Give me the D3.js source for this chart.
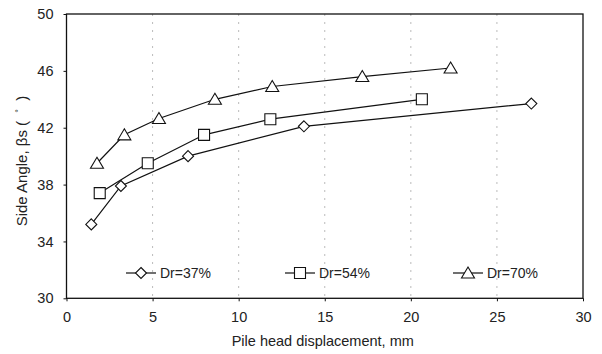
<!DOCTYPE html>
<html><head><meta charset="utf-8">
<script src="https://cdn.jsdelivr.net/npm/d3@7"></script>
<style>body{margin:0;background:#fff}svg{display:block}text{font-family:"Liberation Sans",Arial,sans-serif;fill:#222}</style>
</head><body><svg id="c" width="602" height="354"></svg>
<script>
const xTicks=[0,5,10,15,20,25,30];
const yTicks=[30,34,38,42,46,50];
const seriesNames=["Dr=37%","Dr=54%","Dr=70%"];
const dr37x=[1.44,3.16,7.06,13.79,27.0];
const dr37y=[35.2,37.9,40.0,42.1,43.7];
const dr54x=[1.93,4.72,7.99,11.84,20.64];
const dr54y=[37.4,39.5,41.5,42.6,44.0];
const dr70x=[1.77,3.36,5.37,8.62,11.95,17.18,22.31];
const dr70y=[39.5,41.5,42.65,44.0,44.9,45.6,46.2];

// marker shapes (path generators, centred on 0,0)
const markerPaths=[
 "M0,-5.5L5.5,0L0,5.5L-5.5,0Z",
 "M-5.5,-5.5H5.5V5.5H-5.5Z",
 "M0,-6L6.5,5H-6.5Z"
];

const svg=d3.select("#c");
const L=66.5,R=583,T=14,B=298.3;
const x=d3.scaleLinear().domain([0,30]).range([L,R]);
const y=d3.scaleLinear().domain([30,50]).range([B,T]);

svg.append("g").selectAll("line").data(xTicks.slice(1,-1)).join("line")
 .attr("x1",d=>x(d)).attr("x2",d=>x(d)).attr("y1",T).attr("y2",B)
 .attr("stroke","#aaa").attr("stroke-width",0.8).attr("stroke-dasharray","2,6");

svg.append("rect").attr("x",L).attr("y",T).attr("width",R-L).attr("height",B-T)
 .attr("fill","none").attr("stroke","#111").attr("stroke-width",1.3);

const xa=svg.append("g").attr("transform",`translate(0,${B})`)
 .call(d3.axisBottom(x).tickValues(xTicks).tickSize(3).tickPadding(10).tickFormat(d3.format("d")));
const ya=svg.append("g").attr("transform",`translate(${L},0)`)
 .call(d3.axisLeft(y).tickValues(yTicks).tickSize(3).tickPadding(10).tickFormat(d3.format("d")));
[xa,ya].forEach(a=>{a.select(".domain").remove();a.selectAll("line").attr("stroke","#111");
 a.selectAll("text").attr("font-size",14.5).attr("font-family","Liberation Sans, Arial, sans-serif").attr("fill","#222");});

const data=[[dr37x,dr37y],[dr54x,dr54y],[dr70x,dr70y]].map(([xs,ys])=>xs.map((v,i)=>[v,ys[i]]));
const line=d3.line().x(d=>x(d[0])).y(d=>y(d[1]));
data.forEach((s,k)=>{
 svg.append("path").datum(s).attr("d",line).attr("fill","none").attr("stroke","#111").attr("stroke-width",1.2);
 svg.append("g").selectAll("path").data(s).join("path")
  .attr("transform",d=>`translate(${x(d[0])},${y(d[1])})`)
  .attr("d",markerPaths[k])
  .attr("fill","#fff").attr("stroke","#111").attr("stroke-width",1.1);
});

const legX=[126,285,453];
const ly=273;
seriesNames.forEach((n,k)=>{
 const g=svg.append("g");
 g.append("line").attr("x1",legX[k]).attr("x2",legX[k]+30).attr("y1",ly).attr("y2",ly).attr("stroke","#111").attr("stroke-width",1.2);
 g.append("path").attr("transform",`translate(${legX[k]+15},${ly})`)
  .attr("d",markerPaths[k]).attr("fill","#fff").attr("stroke","#111").attr("stroke-width",1.1);
 g.append("text").attr("x",legX[k]+34).attr("y",ly+5).attr("font-size",14).text(n);
});

svg.append("text").attr("x",(L+R)/2-2).attr("y",346).attr("text-anchor","middle").attr("font-size",14.5).text("Pile head displacement, mm");
const yt=svg.append("text").attr("transform",`translate(27,161) rotate(-90)`).attr("text-anchor","middle").attr("font-size",15).attr("xml:space","preserve");
yt.append("tspan").text("Side Angle, βs (  ");
yt.append("tspan").attr("font-size",9).attr("dy",-5).text("°");
yt.append("tspan").attr("dy",5).text("  )");
</script></body></html>
